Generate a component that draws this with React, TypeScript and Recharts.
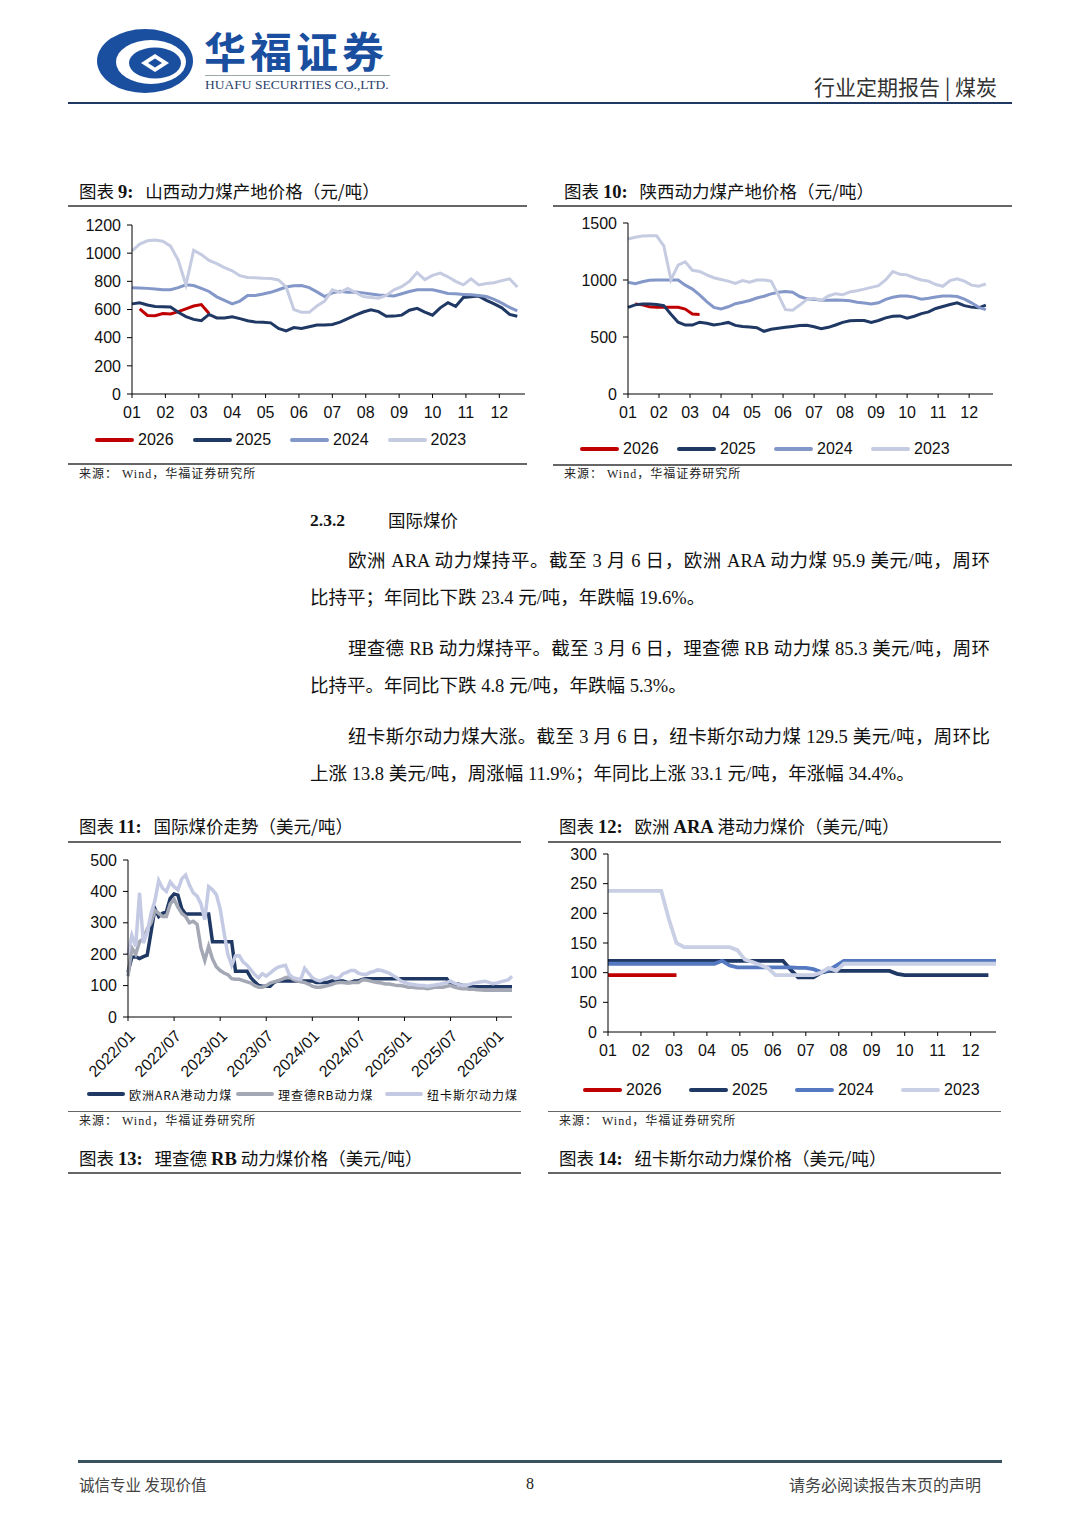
import React from 'react';
import { LineChart, Line, XAxis, YAxis } from 'recharts';

const CJK = '"Noto Sans CJK SC", sans-serif';
const SERIF_CJK = '"Liberation Serif", "Noto Sans CJK SC", serif';
const SANS = '"Liberation Sans", Arial, sans-serif';

const RED = '#c00000';
const NAVY = '#1f3864';
const MID = '#8497c9';
const LIGHT = '#c5cbe1';

// month ticks for the seasonal (weekly) charts
const monthLabels = ['01', '02', '03', '04', '05', '06', '07', '08', '09', '10', '11', '12'];
const monthTicks = monthLabels.map((_, i) => (i * 52) / 12);
const yearNames = ['2026', '2025', '2024', '2023'];

// 图表9 山西动力煤产地价格 (weekly)
const sx2026 = [null, 605, 558, 556, 572, 568, 585, 605, 625, 635, 572];
const sx2025 = [640, 648, 632, 622, 620, 618, 580, 550, 530, 520, 565, 540, 540, 548, 535, 520, 512, 510, 505, 465, 448, 472, 466, 478, 490, 490, 494, 510, 535, 560, 582, 598, 585, 552, 553, 560, 595, 608, 582, 560, 612, 648, 622, 685, 690, 695, 665, 640, 612, 565, 552];
const sx2024 = [755, 752, 750, 746, 740, 740, 755, 775, 770, 750, 728, 690, 665, 640, 660, 700, 700, 710, 722, 740, 760, 768, 770, 755, 725, 692, 718, 730, 722, 725, 718, 710, 703, 700, 696, 712, 728, 740, 740, 740, 728, 714, 711, 707, 704, 700, 692, 672, 645, 615, 590];
const sx2023 = [1016, 1065, 1088, 1094, 1085, 1050, 950, 775, 1020, 990, 948, 925, 898, 875, 840, 828, 826, 822, 820, 810, 760, 600, 580, 580, 625, 660, 740, 722, 750, 722, 692, 686, 680, 700, 740, 762, 800, 862, 812, 842, 858, 832, 800, 775, 818, 775, 785, 790, 805, 818, 760];

// 图表10 陕西动力煤产地价格 (weekly)
const snx2026 = [null, 790, 782, 765, 760, 760, 760, 760, 745, 702, 698];
const snx2025 = [760, 782, 790, 790, 785, 775, 700, 630, 605, 605, 630, 620, 605, 615, 628, 602, 593, 588, 582, 550, 568, 576, 585, 592, 600, 602, 590, 572, 585, 605, 628, 643, 645, 645, 628, 645, 668, 682, 685, 665, 682, 705, 720, 750, 768, 785, 800, 775, 762, 756, 780];
const snx2024 = [980, 968, 985, 998, 1000, 1000, 1000, 1000, 955, 920, 870, 810, 760, 746, 765, 792, 805, 820, 842, 858, 878, 893, 898, 892, 855, 835, 830, 822, 823, 825, 822, 818, 805, 798, 790, 800, 830, 848, 860, 860, 850, 832, 840, 850, 860, 860, 855, 832, 800, 760, 740];
const snx2023 = [1360, 1375, 1385, 1388, 1388, 1300, 1000, 1130, 1160, 1085, 1075, 1045, 1020, 1005, 990, 970, 995, 980, 1000, 1000, 990, 870, 740, 735, 780, 830, 840, 820, 860, 880, 870, 895, 905, 920, 935, 950, 1000, 1075, 1050, 1045, 1020, 1000, 990, 960, 945, 995, 1010, 990, 955, 945, 965];

// 图表11 国际煤价走势 (half-month samples from 2022/01)
const intlDateLabels = ['2022/01', '2022/07', '2023/01', '2023/07', '2024/01', '2024/07', '2025/01', '2025/07', '2026/01'];
const intlTicks = intlDateLabels.map((_, i) => i * 6);
const araIntl = [
  143, 190, 192, 186, 192, 197, 270, 345, 320, 330,
  335, 378, 392, 388, 345, 328, 328, 328, 328, 328,
  328, 328, 240, 240, 240, 240, 240, 240, 146, 146,
  146, 146, 125, 112, 100, 98, 98, 98, 110, 115,
  115, 115, 115, 115, 115, 115, 115, 115, 115, 110,
  110, 110, 110, 115, 115, 115, 115, 110, 110, 115,
  115, 120, 122, 122, 122, 122, 122, 122, 122, 122,
  122, 122, 122, 122, 122, 122, 122, 122, 122, 122,
  122, 122, 122, 122, 105, 105, 105, 100, 100, 98,
  96, 96, 96, 96, 96, 96, 96, 96, 96, 96, 96,
];
const rbIntl = [
  130, 220, 200, 240, 250, 280, 300, 340, 330, 320,
  320, 360, 375, 350, 330, 320, 300, 305, 295, 220,
  180, 225, 185, 160, 148, 140, 135, 122, 120, 120,
  116, 112, 108, 100, 95, 95, 100, 108, 112, 115,
  120, 125, 128, 120, 115, 112, 110, 105, 98, 95,
  95, 97, 100, 103, 108, 110, 110, 108, 110, 110,
  110, 118, 118, 115, 112, 110, 108, 105, 105, 103,
  100, 100, 98, 95, 95, 93, 92, 92, 90, 92,
  95, 95, 95, 98, 100, 95, 92, 90, 90, 88,
  88, 87, 86, 85, 85, 85, 85, 85, 85, 85, 85,
];
const ncIntl = [
  200, 260, 225, 395, 235, 270, 330, 370, 435, 410,
  400, 430, 415, 405, 440, 452, 420, 395, 385, 360,
  310, 415, 405, 390, 345, 270, 200, 165, 195, 195,
  175, 165, 150, 135, 125, 138, 130, 140, 150, 158,
  162, 165, 135, 125, 122, 120, 155, 140, 125, 118,
  115, 120, 125, 130, 122, 125, 138, 142, 148, 148,
  140, 136, 135, 142, 145, 150, 148, 144, 140, 132,
  125, 115, 110, 106, 104, 102, 100, 100, 98, 100,
  102, 104, 107, 110, 114, 108, 104, 100, 100, 104,
  108, 110, 112, 114, 110, 106, 108, 112, 115, 118, 130,
];

// 图表12 欧洲ARA港动力煤价 (weekly)
const ara2026 = [96, 96, 96, 96, 96, 96, 96, 96, 96, 96];
const ara2025 = [120, 120, 120, 120, 120, 120, 120, 120, 120, 120, 120, 120, 120, 120, 120, 120, 120, 120, 120, 120, 120, 120, 120, 120, 105, 92, 92, 92, 100, 103, 103, 103, 103, 103, 103, 103, 103, 103, 98, 96, 96, 96, 96, 96, 96, 96, 96, 96, 96, 96, 96];
const ara2024 = [115, 115, 115, 115, 115, 115, 115, 115, 115, 115, 115, 115, 115, 115, 115, 120, 112, 109, 109, 109, 109, 109, 109, 109, 109, 108, 108, 106, 101, 104, 112, 120, 120, 120, 120, 120, 120, 120, 120, 120, 120, 120, 120, 120, 120, 120, 120, 120, 120, 120, 120, 120];
const ara2023 = [238, 238, 238, 238, 238, 238, 238, 238, 190, 150, 143, 143, 143, 143, 143, 143, 143, 138, 122, 118, 113, 108, 96, 96, 96, 96, 96, 96, 100, 108, 103, 115, 115, 115, 115, 115, 115, 115, 115, 115, 115, 115, 115, 115, 115, 115, 115, 115, 115, 115, 115, 115];

type Series = { key: string; name: string; color: string; values: (number | null)[] };

const axisTick = { fill: '#111', fontSize: 16, fontFamily: SANS };

function buildRows(xKey: string, series: Series[], xs?: number[]) {
  const len = Math.max(...series.map((s) => s.values.length));
  return Array.from({ length: len }, (_, i) => {
    const row: Record<string, number | null> = { [xKey]: xs ? xs[i] : i };
    series.forEach((s) => {
      row[s.key] = s.values[i] ?? null;
    });
    return row;
  });
}

function SeasonChart(props: {
  left: number; top: number; width: number; height: number; yWidth: number;
  domain: [number, number]; ticks: number[]; series: Series[]; strokeWidth: number;
}) {
  const { left, top, width, height, yWidth, domain, ticks, series, strokeWidth } = props;
  const data = buildRows('w', series);
  return (
    <div style={{ position: 'absolute', left, top }}>
      <LineChart width={width} height={height} data={data} margin={{ top: 10, right: 5, left: 0, bottom: 0 }}>
        <XAxis
          dataKey="w"
          type="number"
          domain={[0, 51]}
          ticks={monthTicks}
          interval={0}
          tickFormatter={(v: number) => monthLabels[Math.round((v * 12) / 52)]}
          tick={axisTick}
          tickSize={4}
          tickMargin={9}
          height={30}
          axisLine={{ stroke: '#000' }}
          tickLine={{ stroke: '#000' }}
        />
        <YAxis
          width={yWidth}
          domain={domain}
          ticks={ticks}
          interval={0}
          tick={axisTick}
          tickSize={5}
          tickMargin={6}
          axisLine={{ stroke: '#000' }}
          tickLine={{ stroke: '#000' }}
        />
        {series.map((s) => (
          <Line
            key={s.key}
            type="linear"
            dataKey={s.key}
            name={s.name}
            stroke={s.color}
            strokeWidth={strokeWidth}
            dot={false}
            activeDot={false}
            isAnimationActive={false}
          />
        ))}
      </LineChart>
    </div>
  );
}

function Legend2(props: { left: number; top: number; items: Series[]; itemWidth: number; fontSize: number; lineW: number; letterSpacing?: number; font?: string }) {
  const { left, top, items, itemWidth, fontSize, lineW, letterSpacing, font } = props;
  return (
    <div style={{ position: 'absolute', left, top: top - 10, height: 20, display: 'flex', alignItems: 'center' }}>
      {items.map((s) => (
        <div key={s.key} style={{ width: itemWidth, display: 'flex', alignItems: 'center' }}>
          <span style={{ display: 'inline-block', width: lineW, height: 4, background: s.color, borderRadius: 2 }} />
          <span style={{ marginLeft: 4, fontSize, fontFamily: font || SANS, color: '#111', letterSpacing, whiteSpace: 'nowrap' }}>{s.name}</span>
        </div>
      ))}
    </div>
  );
}

function HLine({ x1, x2, y, color = '#666', w = 1.2 }: { x1: number; x2: number; y: number; color?: string; w?: number }) {
  return <div style={{ position: 'absolute', left: x1, top: y - w / 2, width: x2 - x1, height: w, background: color }} />;
}

function Title({ left, y, num, children }: { left: number; y: number; num: string; children: React.ReactNode }) {
  return (
    <div style={{ position: 'absolute', left, top: y - 13, height: 26, lineHeight: '26px', fontSize: 17.5, fontFamily: CJK, color: '#111', whiteSpace: 'nowrap' }}>
      图表 <b style={{ fontFamily: '"Liberation Serif", serif', fontSize: 18.5 }}>{num}:</b>
      <span style={{ marginLeft: 12 }}>{children}</span>
    </div>
  );
}

function Source({ left, y }: { left: number; y: number }) {
  return (
    <div style={{ position: 'absolute', left, top: y - 9, lineHeight: '18px', fontSize: 12, fontFamily: SERIF_CJK, color: '#222', letterSpacing: 1, whiteSpace: 'nowrap' }}>
      来源： Wind，华福证券研究所
    </div>
  );
}

function TextLine({ left, y, width, children }: { left: number; y: number; width?: number; children: React.ReactNode }) {
  return (
    <div
      style={{
        position: 'absolute', left, top: y - 13, width, lineHeight: '26px', fontSize: 18.5, fontFamily: SERIF_CJK, color: '#111',
        textAlign: width ? 'justify' : 'left', textAlignLast: width ? 'justify' : 'auto', whiteSpace: width ? 'normal' : 'nowrap',
      }}
    >
      {children}
    </div>
  );
}

export default function App() {
  const s9: Series[] = [
    { key: 'y2026', name: yearNames[0], color: RED, values: sx2026 },
    { key: 'y2025', name: yearNames[1], color: NAVY, values: sx2025 },
    { key: 'y2024', name: yearNames[2], color: MID, values: sx2024 },
    { key: 'y2023', name: yearNames[3], color: LIGHT, values: sx2023 },
  ];
  const s10: Series[] = [
    { key: 'y2026', name: yearNames[0], color: RED, values: snx2026 },
    { key: 'y2025', name: yearNames[1], color: NAVY, values: snx2025 },
    { key: 'y2024', name: yearNames[2], color: MID, values: snx2024 },
    { key: 'y2023', name: yearNames[3], color: LIGHT, values: snx2023 },
  ];
  const s12: Series[] = [
    { key: 'y2026', name: yearNames[0], color: RED, values: ara2026 },
    { key: 'y2025', name: yearNames[1], color: NAVY, values: ara2025 },
    { key: 'y2024', name: yearNames[2], color: '#5479c0', values: ara2024 },
    { key: 'y2023', name: yearNames[3], color: '#c9cfe4', values: ara2023 },
  ];
  const s11: Series[] = [
    { key: 'ara', name: '欧洲ARA港动力煤', color: NAVY, values: araIntl },
    { key: 'rb', name: '理查德RB动力煤', color: '#a4a8b4', values: rbIntl },
    { key: 'nc', name: '纽卡斯尔动力煤', color: '#c4cae3', values: ncIntl },
  ];
  const intlX = araIntl.map((_, i) => i / 2);
  const data11 = buildRows('m', s11, intlX);

  return (
    <div style={{ position: 'absolute', left: 0, top: 0, width: 1080, height: 1527, background: '#fff', overflow: 'hidden' }}>
      {/* header */}
      <svg style={{ position: 'absolute', left: 95, top: 28 }} width={100} height={66}>
        <ellipse cx={50} cy={33} rx={48} ry={32} fill="#1a4f9f" />
        <ellipse cx={56} cy={34} rx={35} ry={22} fill="#fff" />
        <ellipse cx={60} cy={35} rx={26} ry={15.5} fill="#1a4f9f" />
        <path d="M46 35 L60 26 L74 35 L60 44 Z" fill="#fff" />
        <path d="M53 35 L60 30.5 L67 35 L60 39.5 Z" fill="#1a4f9f" />
      </svg>
      <div style={{ position: 'absolute', left: 204, top: 26, lineHeight: '48px', fontSize: 42, fontWeight: 700, letterSpacing: 4, fontFamily: CJK, color: '#1a4f9f', whiteSpace: 'nowrap' }}>
        华福证券
      </div>
      <HLine x1={205} x2={390} y={75} color="#9aa" w={1} />
      <div style={{ position: 'absolute', left: 205, top: 77, lineHeight: '16px', fontSize: 13.5, fontFamily: '"Liberation Serif", serif', color: '#2a3f6a', whiteSpace: 'nowrap' }}>
        HUAFU SECURITIES CO.,LTD.
      </div>
      <div style={{ position: 'absolute', left: 814, top: 73, lineHeight: '26px', fontSize: 21, fontFamily: CJK, color: '#333', whiteSpace: 'nowrap' }}>
        行业定期报告 | 煤炭
      </div>
      <HLine x1={68} x2={1012} y={103} color={NAVY} w={2.5} />

      {/* 图表9 */}
      <Title left={79} y={191} num="9">山西动力煤产地价格（元/吨）</Title>
      <HLine x1={68} x2={527} y={206} />
      <SeasonChart left={70} top={215} width={460} height={209} yWidth={62} domain={[0, 1200]} ticks={[0, 200, 400, 600, 800, 1000, 1200]} series={s9} strokeWidth={3} />
      <Legend2 left={95} top={440} items={s9} itemWidth={97.5} fontSize={16} lineW={39} />
      <HLine x1={68} x2={527} y={464} />
      <Source left={79} y={474} />

      {/* 图表10 */}
      <Title left={564} y={191} num="10">陕西动力煤产地价格（元/吨）</Title>
      <HLine x1={553} x2={1012} y={206} />
      <SeasonChart left={550} top={213} width={448} height={211} yWidth={78} domain={[0, 1500]} ticks={[0, 500, 1000, 1500]} series={s10} strokeWidth={3} />
      <Legend2 left={580} top={449} items={s10} itemWidth={97} fontSize={16} lineW={39} />
      <HLine x1={553} x2={1012} y={465} />
      <Source left={564} y={474} />

      {/* text section */}
      <div style={{ position: 'absolute', left: 310, top: 507, lineHeight: '26px', fontSize: 17.5, fontWeight: 700, fontFamily: '"Liberation Serif", serif', color: '#111' }}>2.3.2</div>
      <div style={{ position: 'absolute', left: 388, top: 507, lineHeight: '26px', fontSize: 17.5, fontFamily: CJK, color: '#111' }}>国际煤价</div>
      <TextLine left={348} y={561} width={642}>欧洲 ARA 动力煤持平。截至 3 月 6 日，欧洲 ARA 动力煤 95.9 美元/吨，周环</TextLine>
      <TextLine left={310} y={598}>比持平；年同比下跌 23.4 元/吨，年跌幅 19.6%。</TextLine>
      <TextLine left={348} y={649} width={642}>理查德 RB 动力煤持平。截至 3 月 6 日，理查德 RB 动力煤 85.3 美元/吨，周环</TextLine>
      <TextLine left={310} y={686}>比持平。年同比下跌 4.8 元/吨，年跌幅 5.3%。</TextLine>
      <TextLine left={348} y={737} width={642}>纽卡斯尔动力煤大涨。截至 3 月 6 日，纽卡斯尔动力煤 129.5 美元/吨，周环比</TextLine>
      <TextLine left={310} y={774}>上涨 13.8 美元/吨，周涨幅 11.9%；年同比上涨 33.1 元/吨，年涨幅 34.4%。</TextLine>

      {/* 图表11 */}
      <Title left={79} y={826} num="11">国际煤价走势（美元/吨）</Title>
      <HLine x1={68} x2={521} y={842} />
      <div style={{ position: 'absolute', left: 60, top: 850 }}>
        <LineChart width={457} height={237} data={data11} margin={{ top: 10, right: 5, left: 0, bottom: 0 }}>
          <XAxis
            dataKey="m"
            type="number"
            domain={[0, 50]}
            ticks={intlTicks}
            interval={0}
            tickFormatter={(v: number) => intlDateLabels[Math.round(v / 6)]}
            angle={-45}
            tick={{ ...axisTick, textAnchor: 'end' }}
            tickSize={4}
            tickMargin={8}
            height={70}
            axisLine={{ stroke: '#000' }}
            tickLine={{ stroke: '#000' }}
          />
          <YAxis
            width={68}
            domain={[0, 500]}
            ticks={[0, 100, 200, 300, 400, 500]}
            interval={0}
            tick={axisTick}
            tickSize={5}
            tickMargin={6}
            axisLine={{ stroke: '#000' }}
            tickLine={{ stroke: '#000' }}
          />
          {s11.map((s) => (
            <Line key={s.key} type="linear" dataKey={s.key} name={s.name} stroke={s.color} strokeWidth={3.5} dot={false} activeDot={false} isAnimationActive={false} />
          ))}
        </LineChart>
      </div>
      <Legend2 left={87} top={1094} items={s11} itemWidth={149} fontSize={12} lineW={38} letterSpacing={1} font={CJK} />
      <HLine x1={68} x2={521} y={1111.5} />
      <Source left={79} y={1121} />

      {/* 图表12 */}
      <Title left={559} y={826} num="12">
        欧洲 <b style={{ fontFamily: '"Liberation Serif", serif', fontSize: 18.5 }}>ARA</b> 港动力煤价（美元/吨）
      </Title>
      <HLine x1={548} x2={1001} y={842} />
      <SeasonChart left={545} top={844} width={456} height={218} yWidth={63} domain={[0, 300]} ticks={[0, 50, 100, 150, 200, 250, 300]} series={s12} strokeWidth={3.8} />
      <Legend2 left={583} top={1090} items={s12} itemWidth={106} fontSize={16} lineW={39} />
      <HLine x1={548} x2={1001} y={1111.5} />
      <Source left={559} y={1121} />

      {/* 图表13 / 14 */}
      <Title left={79} y={1158} num="13">
        理查德 <b style={{ fontFamily: '"Liberation Serif", serif', fontSize: 18.5 }}>RB</b> 动力煤价格（美元/吨）
      </Title>
      <HLine x1={68} x2={521} y={1173} />
      <Title left={559} y={1158} num="14">纽卡斯尔动力煤价格（美元/吨）</Title>
      <HLine x1={548} x2={1001} y={1173} />

      {/* footer */}
      <HLine x1={78} x2={1002} y={1461} color="#38525f" w={3} />
      <div style={{ position: 'absolute', left: 79, top: 1473, lineHeight: '22px', fontSize: 15.5, fontFamily: CJK, color: '#444', whiteSpace: 'nowrap' }}>诚信专业 发现价值</div>
      <div style={{ position: 'absolute', left: 526, top: 1473, lineHeight: '22px', fontSize: 16, fontFamily: '"Liberation Serif", serif', color: '#222' }}>8</div>
      <div style={{ position: 'absolute', left: 789, top: 1473, lineHeight: '22px', fontSize: 16, fontFamily: CJK, color: '#444', whiteSpace: 'nowrap' }}>请务必阅读报告末页的声明</div>
    </div>
  );
}
